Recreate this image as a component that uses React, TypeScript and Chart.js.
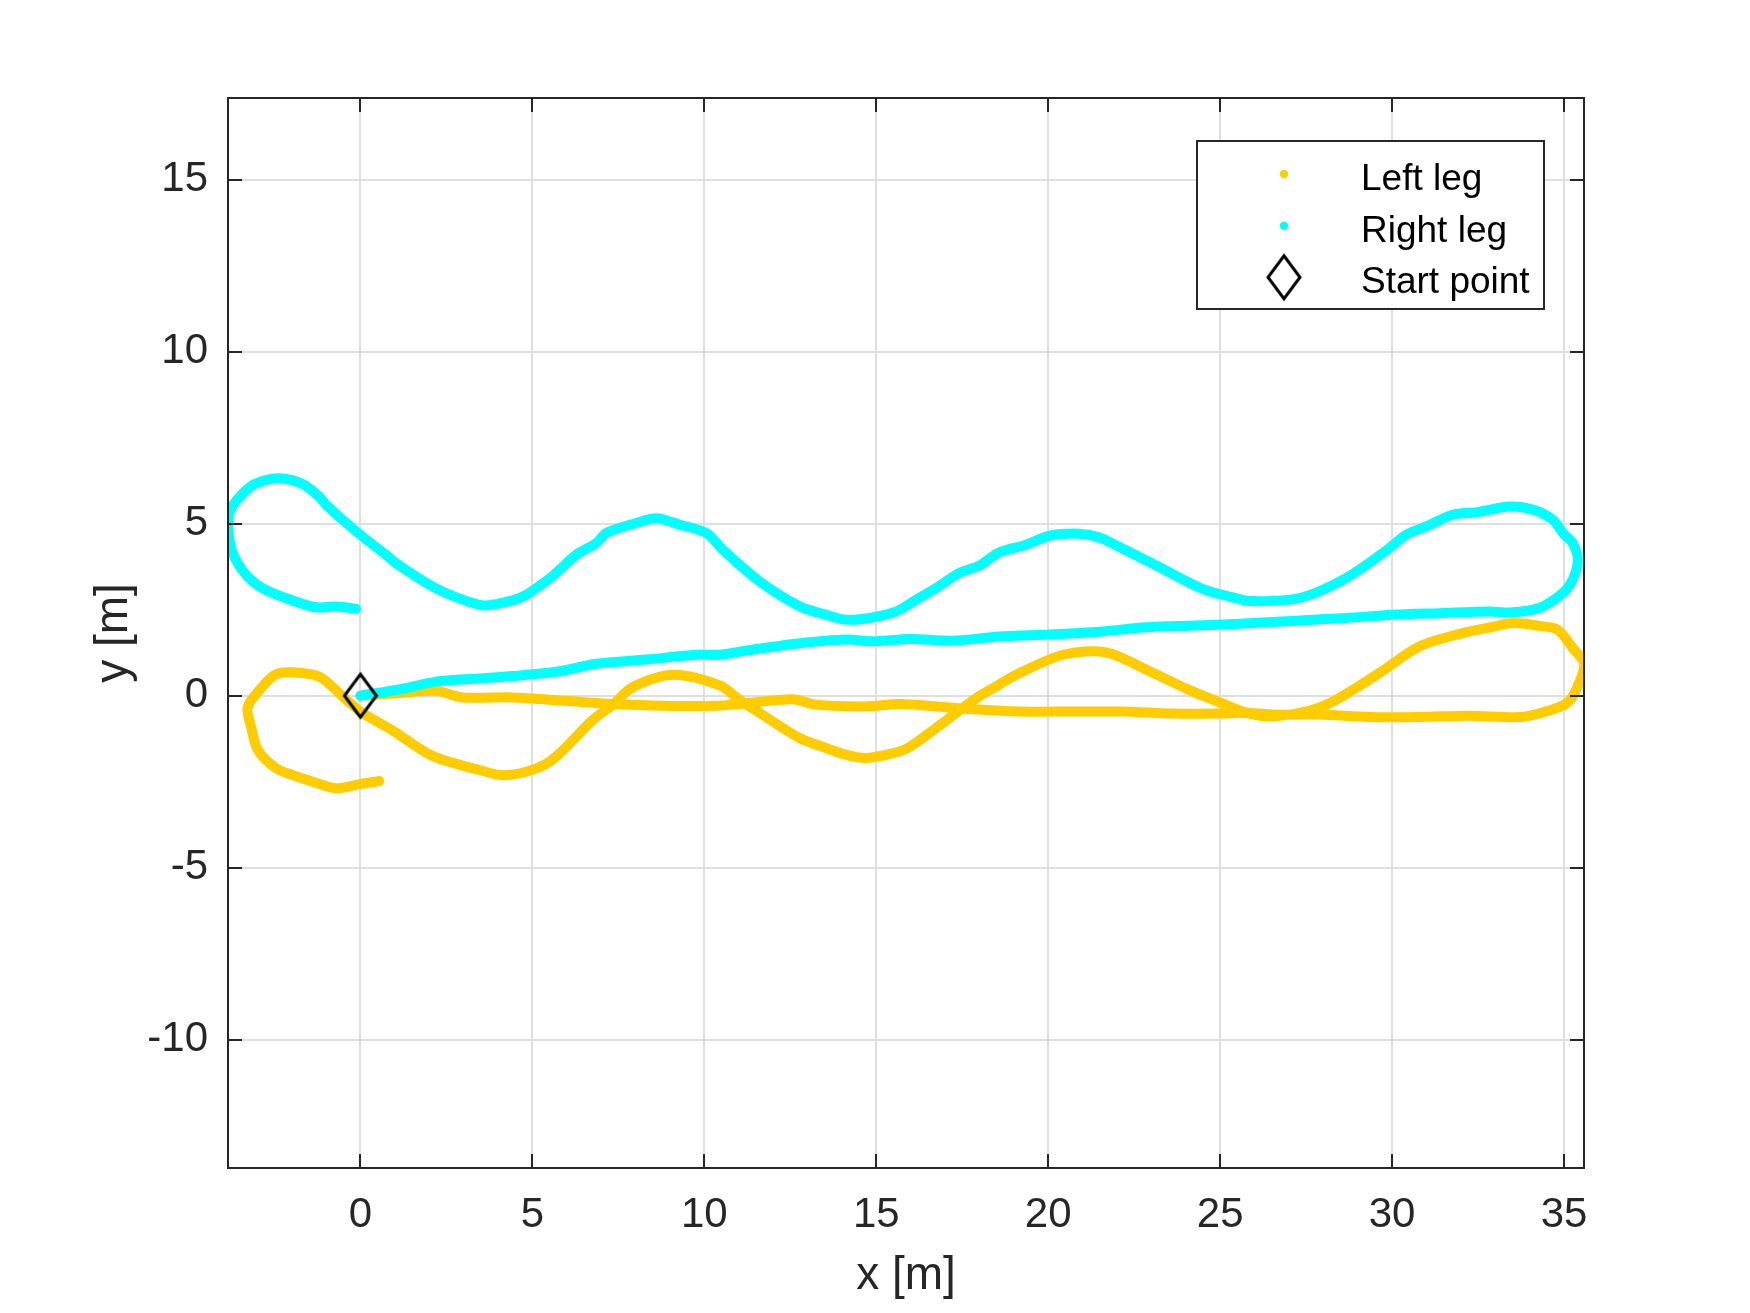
import React, { useEffect, useRef } from "react";
import { Chart, registerables } from "chart.js";

Chart.register(...registerables);

// Left leg trajectory (path order, metres)
const leftLegX = [
  0, 1.04, 2.2, 2.97, 4.43, 5.98, 7.34, 8.8, 10.35, 11.03, 12.58, 13.24, 14.71, 15.68,
  17.61, 19.16, 20.62, 22.17, 23.62, 24.98, 25.85, 26.53, 27.89, 29.34, 30.79, 32.24,
  33.75, 34.47, 35.06, 35.35, 35.59, 35.25, 34.81, 34.28, 33.5, 32.92, 32.05, 30.79,
  29.63, 28.37, 27.6, 26.53, 25.85, 24.98, 24.11, 22.95, 21.68, 20.43, 19.07, 18.49,
  17.91, 16.74, 15.97, 15.49, 14.71, 14.13, 13.54, 12.77, 11.61, 11.03, 10.45, 9.09,
  7.92, 7.34, 6.76, 5.79, 5.4, 4.82, 4.14, 3.46, 2.1, 0.89, 0.07, -0.51, -1.19, -2.02,
  -2.5, -2.94, -3.28, -3.18, -2.98, -2.45, -1.96, -1.29, -0.71, -0.03, 0.55,
];
const leftLegY = [
  0, 0.07, 0.14, -0.05, -0.05, -0.15, -0.24, -0.29, -0.29, -0.24, -0.1, -0.26, -0.31, -0.24,
  -0.38, -0.46, -0.46, -0.46, -0.52, -0.52, -0.5, -0.55, -0.55, -0.62, -0.62, -0.58,
  -0.62, -0.46, -0.23, 0.17, 0.9, 1.39, 1.92, 2.03, 2.11, 2.0, 1.82, 1.43,
  0.66, -0.12, -0.43, -0.6, -0.52, -0.19, 0.16, 0.71, 1.26, 1.19, 0.61, 0.27,
  -0.07, -0.94, -1.49, -1.67, -1.81, -1.72, -1.52, -1.23, -0.5, -0.12, 0.3, 0.61,
  0.25, -0.26, -0.7, -1.68, -1.98, -2.21, -2.31, -2.16, -1.75, -0.98, -0.51, -0.03, 0.55, 0.68,
  0.6, 0.16, -0.34, -0.9, -1.58, -2.11, -2.31, -2.53, -2.69, -2.57, -2.48,
];

// Right leg trajectory (path order, metres)
const rightLegX = [
  0, 1.13, 2.2, 3.46, 4.43, 5.79, 6.86, 8.31, 9.76, 10.44, 11.22, 12.67, 14.13, 14.9,
  15.97, 17.23, 18.58, 20.04, 21.49, 22.85, 24.3, 25.56, 27.21, 28.66, 30.02, 31.38,
  32.84, 33.42, 34.28, 34.96, 35.25, 35.4, 35.25, 35.01, 34.67, 34.09, 33.42, 32.44,
  31.76, 30.99, 30.41, 29.83, 28.66, 27.31, 25.9, 25.37, 24.5, 23.23, 22.07, 21.49,
  20.91, 20.04, 19.36, 18.58, 18.0, 17.42, 16.74, 16.16, 15.58, 14.81, 14.13, 13.54,
  12.77, 11.61, 10.54, 10.06, 9.29, 8.61, 8.02, 7.15, 6.86, 6.28, 5.79, 5.49, 4.72,
  3.94, 3.46, 2.2, 1.04, 0.75, -0.03, -0.99, -1.19, -1.68, -2.35, -3.03, -3.42, -3.78,
  -3.85, -3.71, -3.32, -2.84, -2.06, -1.29, -0.71, -0.13,
];
const rightLegY = [
  0, 0.18, 0.41, 0.5, 0.57, 0.71, 0.93, 1.05, 1.19, 1.19, 1.31, 1.51, 1.63, 1.58,
  1.65, 1.6, 1.72, 1.78, 1.86, 1.99, 2.04, 2.09, 2.18, 2.26, 2.35, 2.4,
  2.45, 2.42, 2.55, 2.98, 3.37, 3.95, 4.44, 4.68, 5.12, 5.41, 5.5, 5.33,
  5.26, 4.92, 4.68, 4.22, 3.42, 2.84, 2.75, 2.86, 3.1, 3.74, 4.32, 4.6,
  4.71, 4.65, 4.39, 4.17, 3.78, 3.57, 3.13, 2.79, 2.45, 2.26, 2.21, 2.35,
  2.6, 3.32, 4.24, 4.73, 4.97, 5.16, 5.02, 4.73, 4.44, 4.1, 3.66, 3.4, 2.88,
  2.66, 2.64, 3.12, 3.85, 4.09, 4.7, 5.54, 5.78, 6.15, 6.32, 6.17, 5.88, 5.4,
  4.91, 4.14, 3.51, 3.12, 2.8, 2.57, 2.59, 2.53,
];

const startX = [0];
const startY = [0];

const seriesLabels = ["Left leg", "Right leg", "Start point"];
const xTicks = [0, 5, 10, 15, 20, 25, 30, 35];
const yTicks = [-10, -5, 0, 5, 10, 15];
const xLimits = [-3.85, 35.58];
const yLimits = [-13.73, 17.375];

const FONT = '"Liberation Sans", Arial, Helvetica, sans-serif';
const AXIS_COLOR = "#262626";

function toPoints(xs: number[], ys: number[]) {
  return xs.map((x, i) => ({ x, y: ys[i] }));
}

function makeDiamond(): HTMLCanvasElement {
  const c = document.createElement("canvas");
  c.width = 40;
  c.height = 52;
  const g = c.getContext("2d")!;
  g.strokeStyle = "#000000";
  g.lineWidth = 3;
  g.beginPath();
  g.moveTo(20, 4.5);
  g.lineTo(36, 26);
  g.lineTo(20, 47.5);
  g.lineTo(4, 26);
  g.closePath();
  g.stroke();
  return c;
}

const framePlugin = {
  id: "matlabFrame",
  afterDatasetsDraw(chart: any) {
    const { ctx, chartArea: a, scales } = chart;
    const xs = scales.x;
    const ys = scales.y;
    const T = 14;
    ctx.save();
    ctx.strokeStyle = AXIS_COLOR;
    ctx.lineWidth = 2;
    ctx.beginPath();
    xs.ticks.forEach((t: any) => {
      const px = Math.round(xs.getPixelForValue(t.value));
      ctx.moveTo(px, a.bottom);
      ctx.lineTo(px, a.bottom - T);
      ctx.moveTo(px, a.top);
      ctx.lineTo(px, a.top + T);
    });
    ys.ticks.forEach((t: any) => {
      const py = Math.round(ys.getPixelForValue(t.value));
      ctx.moveTo(a.left, py);
      ctx.lineTo(a.left + T, py);
      ctx.moveTo(a.right, py);
      ctx.lineTo(a.right - T, py);
    });
    ctx.stroke();
    ctx.strokeRect(a.left, a.top, a.right - a.left, a.bottom - a.top);
    ctx.restore();
  },
};

const legendPlugin = {
  id: "insideLegend",
  afterDraw(chart: any) {
    const { ctx, chartArea: a } = chart;
    const w = 347;
    const h = 168;
    const left = a.right - 40 - w;
    const top = a.top + 43;
    ctx.save();
    ctx.fillStyle = "#ffffff";
    ctx.fillRect(left, top, w, h);
    ctx.strokeStyle = AXIS_COLOR;
    ctx.lineWidth = 2;
    ctx.strokeRect(left, top, w, h);
    const baselines = [49, 100.7, 152.3];
    chart.data.datasets.forEach((ds: any, i: number) => {
      const by = top + baselines[i];
      const mx = left + 87;
      const my = by - 16;
      if (ds.pointStyle && typeof ds.pointStyle !== "string") {
        const img = ds.pointStyle as HTMLCanvasElement;
        ctx.drawImage(img, mx - img.width / 2, my - img.height / 2);
      } else {
        ctx.fillStyle = ds.borderColor;
        ctx.beginPath();
        ctx.arc(mx, my, 4.2, 0, Math.PI * 2);
        ctx.fill();
      }
      ctx.fillStyle = "#000000";
      ctx.font = `37px ${FONT}`;
      ctx.textBaseline = "alphabetic";
      ctx.textAlign = "left";
      ctx.fillText(ds.label, left + 164, by);
    });
    ctx.restore();
  },
};

export default function App() {
  const canvasRef = useRef<HTMLCanvasElement | null>(null);

  useEffect(() => {
    const canvas = canvasRef.current;
    if (!canvas) return;
    const diamond = makeDiamond();
    const chart = new Chart(canvas, {
      type: "scatter",
      data: {
        datasets: [
          {
            label: seriesLabels[0],
            data: toPoints(leftLegX, leftLegY),
            showLine: true,
            borderColor: "#FFCC00",
            backgroundColor: "#FFCC00",
            borderWidth: 10,
            pointRadius: 0,
            tension: 0.3,
            borderJoinStyle: "round",
            borderCapStyle: "round",
            order: 2,
          },
          {
            label: seriesLabels[1],
            data: toPoints(rightLegX, rightLegY),
            showLine: true,
            borderColor: "#00FFFF",
            backgroundColor: "#00FFFF",
            borderWidth: 10,
            pointRadius: 0,
            tension: 0.3,
            borderJoinStyle: "round",
            borderCapStyle: "round",
            order: 1,
          },
          {
            label: seriesLabels[2],
            data: toPoints(startX, startY),
            showLine: false,
            pointStyle: diamond,
            pointRadius: 20,
            borderColor: "#000000",
            backgroundColor: "rgba(0,0,0,0)",
            order: 0,
          } as any,
        ],
      },
      options: {
        animation: false,
        responsive: false,
        devicePixelRatio: 1,
        events: [],
        layout: { padding: { left: 0, top: 98, right: 166, bottom: 0 } },
        plugins: {
          legend: { display: false },
          tooltip: { enabled: false },
        },
        scales: {
          x: {
            type: "linear",
            min: xLimits[0],
            max: xLimits[1],
            afterBuildTicks: (scale: any) => {
              scale.ticks = xTicks.map((v) => ({ value: v }));
            },
            afterFit: (scale: any) => {
              scale.height = 145;
            },
            grid: { color: "#dfdfdf", lineWidth: 2, drawTicks: false },
            border: { display: false },
            ticks: {
              padding: 22,
              maxRotation: 0,
              autoSkip: false,
              color: AXIS_COLOR,
              font: { family: FONT, size: 42 },
              callback: (v: any) => String(v),
            },
            title: {
              display: true,
              text: "x [m]",
              color: AXIS_COLOR,
              font: { family: FONT, size: 46 },
              padding: { top: 0, bottom: 9 },
            },
          },
          y: {
            type: "linear",
            min: yLimits[0],
            max: yLimits[1],
            afterBuildTicks: (scale: any) => {
              scale.ticks = yTicks.map((v) => ({ value: v }));
            },
            afterFit: (scale: any) => {
              scale.width = 228;
            },
            grid: { color: "#dfdfdf", lineWidth: 2, drawTicks: false },
            border: { display: false },
            ticks: {
              padding: 20,
              autoSkip: false,
              color: AXIS_COLOR,
              font: { family: FONT, size: 42 },
              callback: (v: any) => String(v),
            },
            title: {
              display: true,
              text: "y [m]",
              color: AXIS_COLOR,
              font: { family: FONT, size: 46 },
              padding: { top: 87, bottom: 0 },
            },
          },
        },
      },
      plugins: [framePlugin, legendPlugin],
    } as any);
    return () => chart.destroy();
  }, []);

  return (
    <div style={{ position: "fixed", left: 0, top: 0, width: 1750, height: 1313, background: "#ffffff" }}>
      <canvas ref={canvasRef} width={1750} height={1313} style={{ display: "block" }} />
    </div>
  );
}
